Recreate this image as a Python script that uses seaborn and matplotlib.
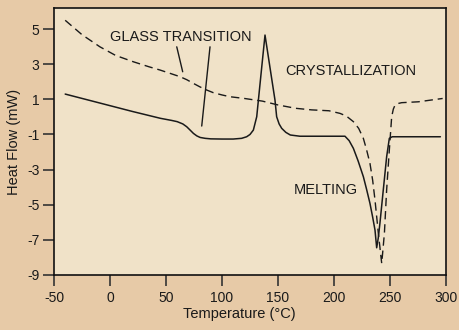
import matplotlib
matplotlib.use("Agg")
import matplotlib.pyplot as plt
import seaborn as sns
import pandas as pd

# ---- data ----
heating_x = [-40, -20, 0, 20, 45, 55, 60, 65, 68.5, 72, 74.5, 77.5, 80.5, 85, 90, 100, 110,
             117.5, 122, 125, 128, 131, 132.5, 135.5, 138.4, 141, 144, 147.3, 148.8, 151,
             153.3, 157, 161, 169.6, 180, 195, 209.8, 213.5, 217.3, 221.5, 226.2, 229,
             232.1, 234.5, 236.6, 238.1, 239.5, 241, 244, 247, 249.4, 252, 265, 280, 295]
heating_y = [1.3, 0.97, 0.64, 0.31, -0.08, -0.2, -0.27, -0.4, -0.56, -0.78, -0.94, -1.08,
             -1.17, -1.22, -1.25, -1.26, -1.26, -1.22, -1.13, -1.0, -0.75, 0.01, 0.96, 2.85,
             4.66, 3.58, 2.33, 0.96, 0.01, -0.4, -0.65, -0.88, -1.03, -1.1, -1.1, -1.1, -1.1,
             -1.35, -1.79, -2.5, -3.4, -4.1, -4.92, -5.7, -6.44, -7.45, -6.9, -6.06, -4.16,
             -2.27, -1.22, -1.13, -1.13, -1.13, -1.13]

quenched_x = [-40, -25, -9, 5, 20.8, 35, 44.6, 55, 62.5, 68.5, 74.4, 80, 84.8, 92.2, 100,
              107, 120, 136, 150, 165.8, 180, 195.5, 205.4, 211, 217.3, 222, 226.2, 229,
              232.1, 234.5, 236.6, 239.6, 242.6, 245, 247, 249.4, 251.5, 253, 254.5, 257,
              260.4, 275.3, 297]
quenched_y = [5.5, 4.68, 3.99, 3.5, 3.14, 2.85, 2.67, 2.45, 2.29, 2.12, 1.91, 1.72, 1.57,
              1.38, 1.25, 1.15, 1.05, 0.9, 0.68, 0.49, 0.4, 0.35, 0.2, 0.05, -0.27, -0.65,
              -1.22, -1.85, -2.64, -3.6, -4.73, -6.63, -8.34, -6.63, -4.16, -1.89, 0.01,
              0.45, 0.67, 0.76, 0.81, 0.86, 1.05]

x_ticks = [-50, 0, 50, 100, 150, 200, 250, 300]
y_ticks = [5, 3, 1, -1, -3, -5, -7, -9]

labels = ["GLASS TRANSITION", "CRYSTALLIZATION", "MELTING"]
label_pos = [(0, 4.56), (156.3, 2.63), (164.3, -4.16)]
leaders = [((59.6, 3.99), (64.9, 2.57)), ((89.3, 3.99), (81.9, -0.52))]

# ---- style ----
FIG_BG = "#E7CAA7"
AX_BG = "#F0E2C8"
sns.set_theme(style="ticks")
plt.rcParams["font.family"] = ["Liberation Sans", "DejaVu Sans"]

fig = plt.figure(figsize=(4.59, 3.30), dpi=100, facecolor=FIG_BG)
ax = fig.add_axes([54 / 459, 55 / 330, 392 / 459, 267 / 330])
ax.set_facecolor(AX_BG)

df_h = pd.DataFrame({"T": heating_x, "Q": heating_y})
df_q = pd.DataFrame({"T": quenched_x, "Q": quenched_y})

sns.lineplot(data=df_q, x="T", y="Q", estimator=None, sort=False, ax=ax,
             color="#1a1a1a", lw=1.0)
ax.lines[-1].set_linestyle((0, (6, 3.5)))
sns.lineplot(data=df_h, x="T", y="Q", estimator=None, sort=False, ax=ax,
             color="#1a1a1a", lw=1.1)

for txt, (tx, ty) in zip(labels, label_pos):
    ax.text(tx, ty, txt, ha="left", va="center", fontsize=10.5, color="#1a1a1a")
for start, end in leaders:
    ax.annotate("", xy=end, xytext=start,
                arrowprops=dict(arrowstyle="-", lw=1.0, color="#1a1a1a",
                                shrinkA=0, shrinkB=0))

ax.set_xlim(-50, 300)
ax.set_ylim(-9, 6.2)
ax.set_xticks(x_ticks)
ax.set_xticklabels([str(v) for v in x_ticks])
ax.set_yticks(y_ticks)
ax.set_yticklabels([str(v) for v in y_ticks])
ax.tick_params(axis="both", direction="out", length=8, width=1.2, color="#333333",
               labelsize=10, labelcolor="#1a1a1a")
ax.tick_params(axis="x", pad=3.5)
ax.tick_params(axis="y", pad=2.5)
for s in ax.spines.values():
    s.set_visible(True)
    s.set_color("#111111")
    s.set_linewidth(1.2)

ax.set_xlabel("Temperature (°C)", fontsize=10.5, color="#1a1a1a")
ax.set_ylabel("Heat Flow (mW)", fontsize=10.5, color="#1a1a1a")
ax.xaxis.set_label_coords(0.472, -0.12)
ax.yaxis.set_label_coords(-0.084, 0.5)
ax.legend_ = None

fig.savefig("out.png", dpi=100, facecolor=FIG_BG)
